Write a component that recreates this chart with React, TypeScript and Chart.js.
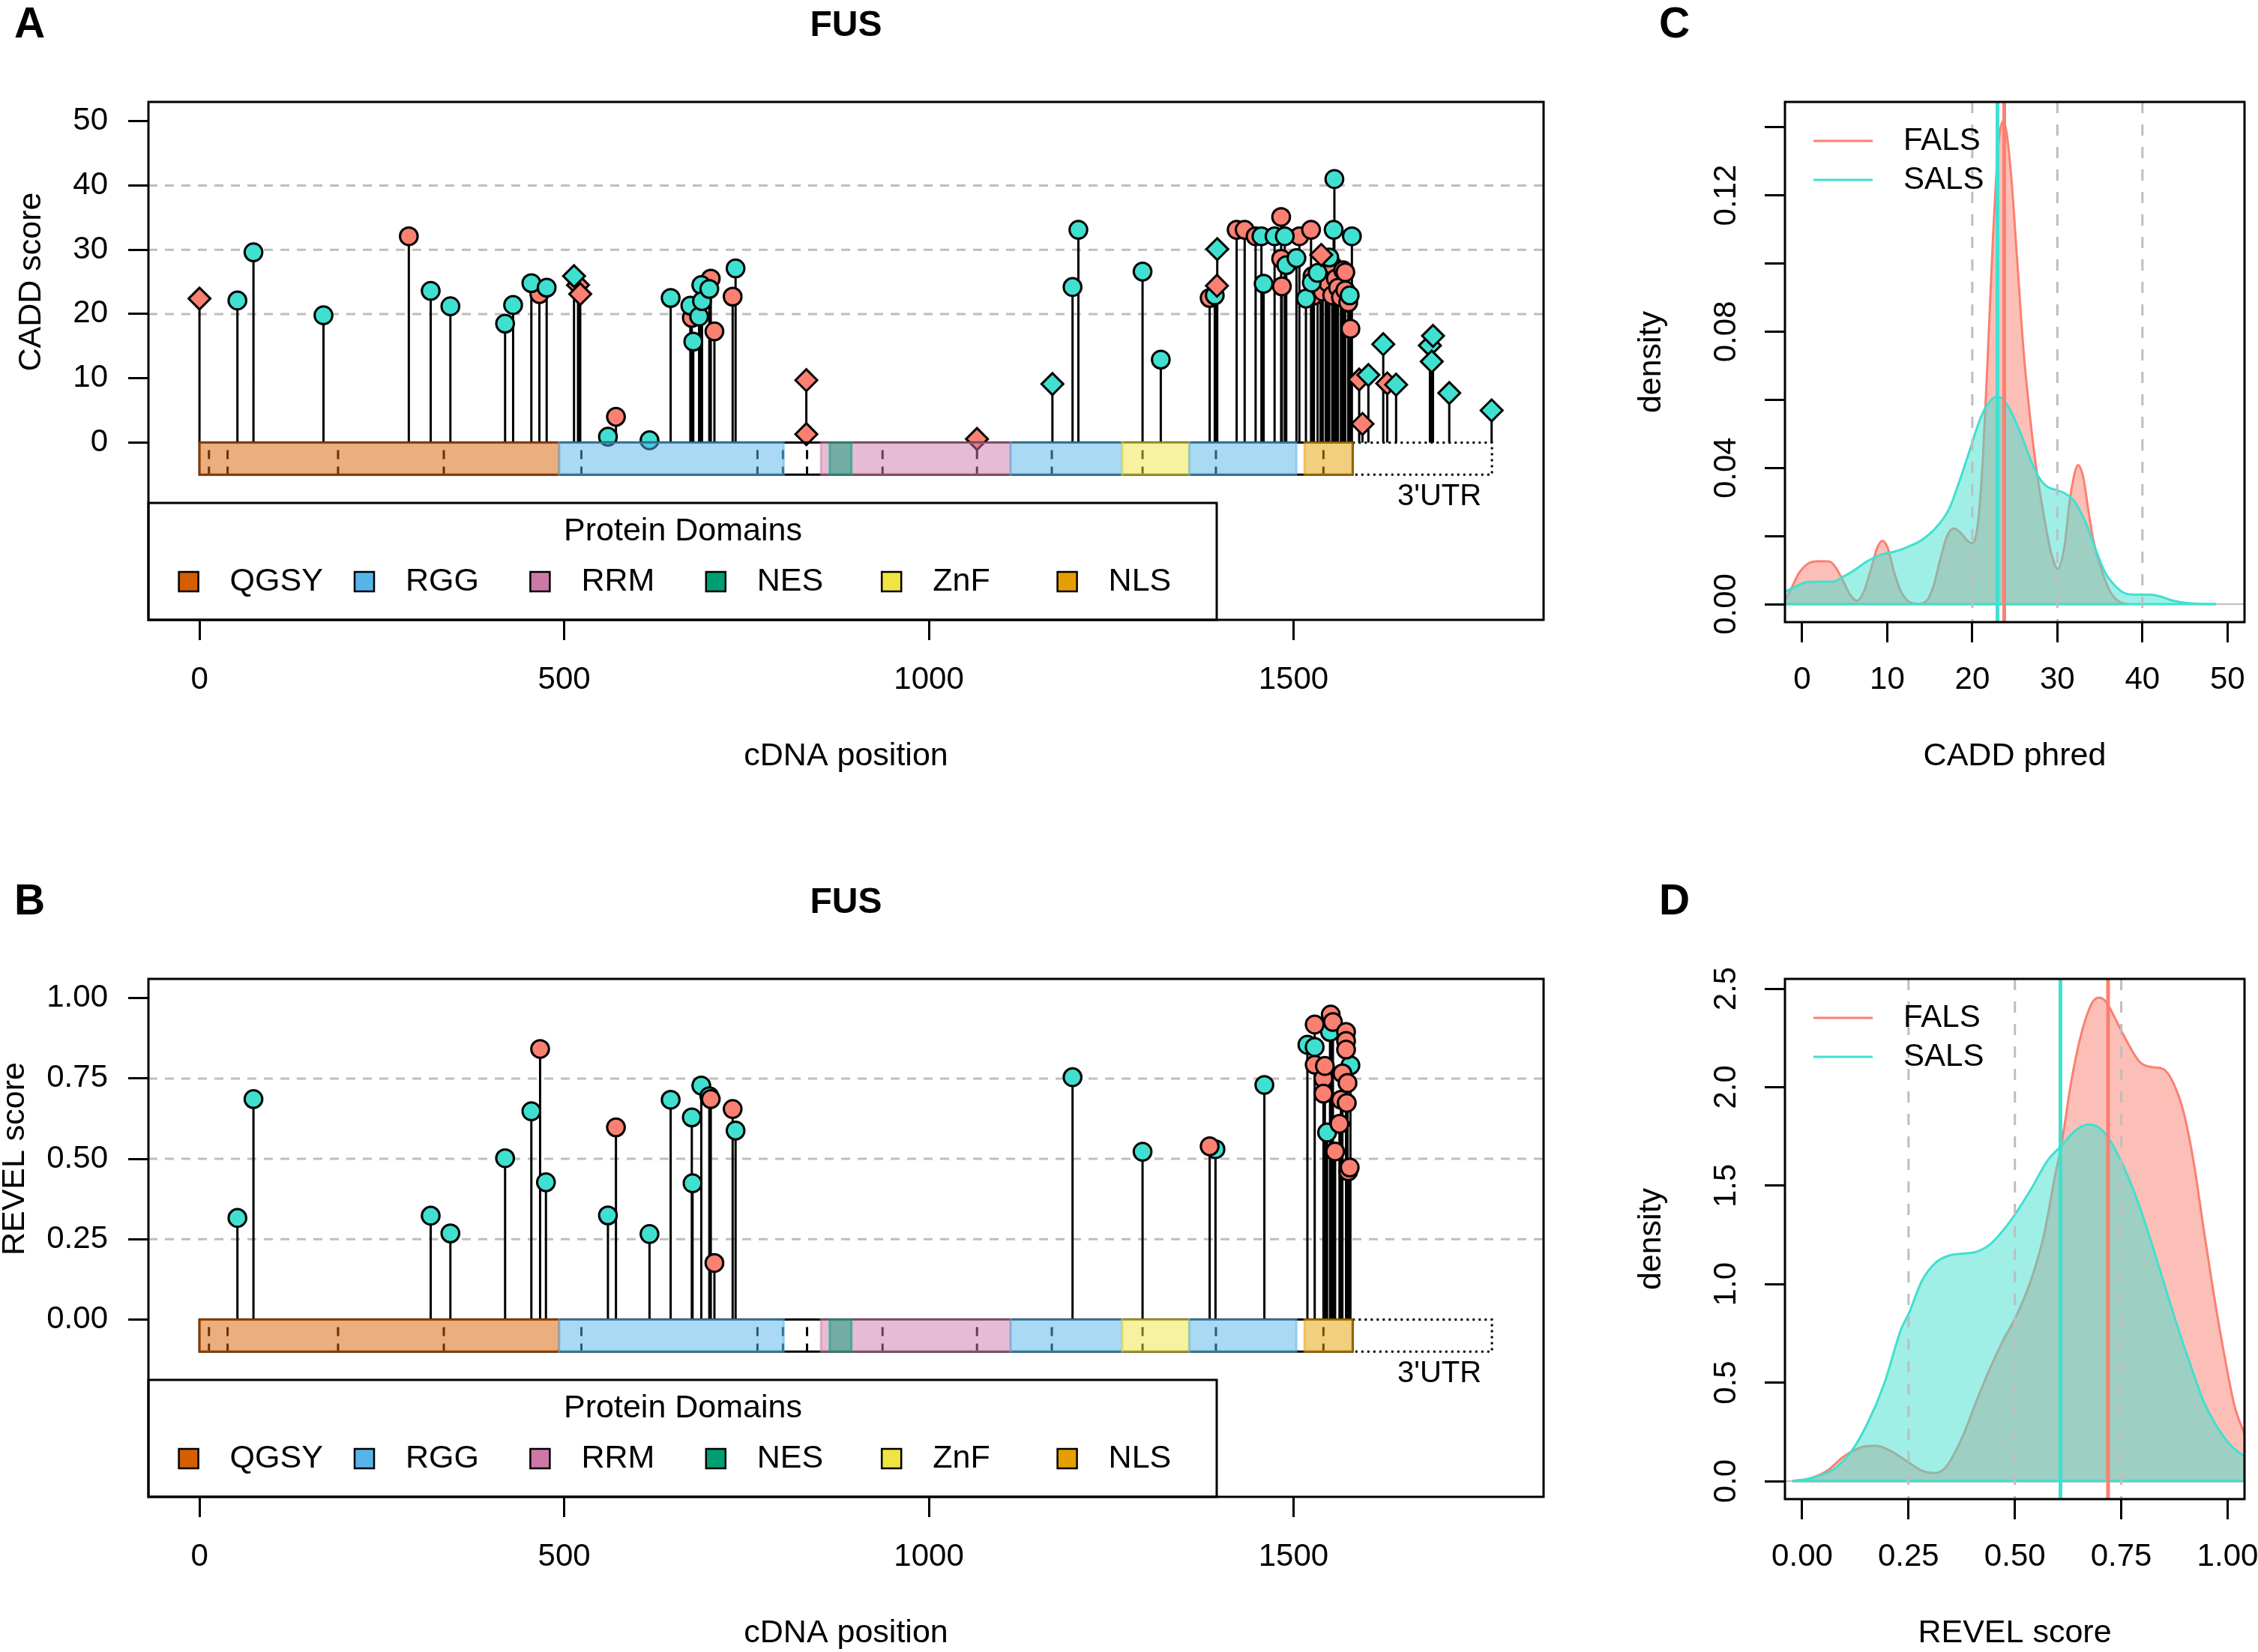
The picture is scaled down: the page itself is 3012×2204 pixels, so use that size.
import React, { useEffect, useRef } from 'react';
import { Chart, registerables } from 'chart.js';

Chart.register(...registerables);

const FONT = '"Liberation Sans", Arial, Helvetica, sans-serif';
Chart.defaults.font.family = FONT;
Chart.defaults.color = '#000';

const SALMON = '#FA8072';
const TURQ = '#40E0D0';
const GRAY = '#BEBEBE';
const groupNames = ['FALS', 'SALS'];

// ---------- Panel A : CADD score along FUS cDNA ----------
const caddFalsMisPos = [287, 466, 571, 675, 701, 706, 731, 1385, 1422, 1433, 1448, 1483, 1483, 1484, 1508, 1524, 1526, 1528, 1537, 1540, 1544, 1547, 1553, 1553, 1558, 1561, 1565, 1568, 1571, 1571, 1575, 1578];
const caddFalsMisScore = [32.1, 23.1, 4.0, 19.4, 25.5, 17.3, 22.7, 22.5, 33.1, 33.1, 32.1, 35.1, 28.6, 24.3, 32.1, 33.1, 25.9, 22.9, 24.5, 23.5, 26.0, 24.9, 27.6, 22.9, 25.5, 24.1, 22.6, 26.8, 26.5, 23.7, 21.8, 17.7];
const caddSalsMisPos = [52, 74, 170, 317, 344, 419, 430, 455, 476, 560, 617, 646, 673, 677, 685, 688, 689, 699, 735, 1197, 1205, 1293, 1318, 1392, 1456, 1459, 1474, 1488, 1490, 1504, 1517, 1525, 1533, 1549, 1555, 1556, 1577, 1580];
const caddSalsMisScore = [22.1, 29.6, 19.8, 23.6, 21.2, 18.5, 21.4, 24.8, 24.1, 0.9, 0.35, 22.5, 21.3, 15.7, 19.6, 24.5, 22.0, 23.9, 27.1, 24.2, 33.1, 26.6, 12.9, 22.9, 32.1, 24.7, 32.1, 32.1, 27.6, 28.7, 22.4, 24.9, 26.4, 28.8, 33.1, 41.0, 22.9, 32.1];
const caddFalsOtherPos = [0, 519, 522, 832, 832, 1066, 1395, 1538, 1590, 1594.5, 1628.5];
const caddFalsOtherScore = [22.4, 24.5, 23.1, 9.7, 1.3, 0.55, 24.4, 29.2, 9.8, 2.9, 9.2];
const caddSalsOtherPos = [513.5, 1169.4, 1395.4, 1602.6, 1623, 1640.6, 1687, 1689.5, 1691.2, 1713.5, 1771.6];
const caddSalsOtherScore = [25.9, 9.1, 30.1, 10.5, 15.3, 9.0, 15.1, 12.6, 16.6, 7.7, 5.0];

// ---------- Panel B : REVEL score along FUS cDNA ----------
const revelFalsPos = [467, 571, 701, 706, 731, 1385, 1529, 1529, 1541, 1541, 1543, 1551, 1554, 1557, 1563, 1565, 1567, 1572, 1572, 1572, 1573, 1574, 1575, 1577];
const revelFalsScore = [0.842, 0.598, 0.686, 0.176, 0.655, 0.539, 0.918, 0.793, 0.75, 0.703, 0.789, 0.949, 0.926, 0.523, 0.609, 0.684, 0.766, 0.895, 0.867, 0.84, 0.674, 0.736, 0.461, 0.473];
const revelSalsPos = [52, 74, 317, 344, 419, 455, 475, 560, 617, 646, 675, 676, 688, 699, 735, 1197, 1293, 1393, 1460, 1519, 1529, 1546, 1550, 1578];
const revelSalsScore = [0.316, 0.686, 0.323, 0.268, 0.502, 0.648, 0.427, 0.324, 0.266, 0.684, 0.629, 0.424, 0.728, 0.695, 0.588, 0.754, 0.522, 0.53, 0.73, 0.855, 0.848, 0.582, 0.895, 0.791];

// ---------- Gene model ----------
const domainNames = ['QGSY', 'RGG', 'RRM', 'NES', 'ZnF', 'NLS'];
const domainColors = ['#D55E00', '#56B4E9', '#CC79A7', '#009E73', '#F0E442', '#E69F00'];
const segNames = ['QGSY', 'RGG', 'RRM', 'NES', 'RGG', 'ZnF', 'RGG', 'NLS'];
const segStart = [0, 493, 852, 864, 1112, 1265, 1357, 1515];
const segEnd = [493, 801, 1112, 894, 1265, 1357, 1504, 1581];
const exonBoundaries = [13, 38.5, 190, 335, 523.6, 765, 800, 833, 936.5, 1066, 1168.6, 1293, 1393.6, 1541];
const cdsStart = 0;
const cdsEnd = 1581;
const utrEnd = 1772;
const cdnaTicks = [0, 500, 1000, 1500];
const cdnaTickLabels = ['0', '500', '1000', '1500'];
const caddTicks = [0, 10, 20, 30, 40, 50];
const caddTickLabels = ['0', '10', '20', '30', '40', '50'];
const caddGrid = [20, 30, 40];
const revelTicks = [0, 0.25, 0.5, 0.75, 1];
const revelTickLabels = ['0.00', '0.25', '0.50', '0.75', '1.00'];
const revelGrid = [0.25, 0.5, 0.75];

// ---------- Panel C : CADD phred density ----------
const caddFalsX = [-2.03, -1.35, -0.35, 0.85, 2.05, 3.25, 4.04, 4.84, 5.64, 6.44, 7.24, 8.04, 8.84, 9.44, 10.04, 10.84, 11.64, 12.64, 13.64, 14.64, 15.44, 16.24, 17.04, 17.84, 18.64, 19.44, 19.96, 20.64, 21.24, 21.84, 22.44, 23.04, 23.56, 24.04, 24.64, 25.24, 26.04, 26.84, 27.44, 28.44, 29.24, 30.04, 30.84, 31.44, 32.04, 32.43, 33.03, 33.63, 34.23, 35.23, 36.23, 37.23, 38.23];
const caddFalsY = [0.001, 0.0042, 0.0092, 0.0121, 0.0126, 0.0125, 0.0104, 0.0067, 0.0028, 0.001, 0.0036, 0.0098, 0.0166, 0.0186, 0.0166, 0.0092, 0.0036, 0.0006, 0.0001, 0.001, 0.0053, 0.0132, 0.02, 0.0222, 0.0209, 0.0186, 0.0179, 0.0233, 0.0425, 0.074, 0.1079, 0.1338, 0.1417, 0.1383, 0.1236, 0.1022, 0.074, 0.0538, 0.0414, 0.0256, 0.0154, 0.0104, 0.0171, 0.0301, 0.0385, 0.0408, 0.0374, 0.0278, 0.0188, 0.0098, 0.0036, 0.0008, 0];
const caddSalsX = [-2.03, -1.15, 0.45, 2.05, 3.65, 4.84, 6.04, 7.64, 9.24, 10.84, 12.44, 14.04, 15.64, 17.24, 18.44, 19.64, 20.84, 21.84, 22.84, 23.44, 24.44, 25.64, 26.84, 27.64, 28.64, 29.83, 30.83, 32.03, 33.23, 34.43, 35.63, 36.83, 37.83, 38.83, 40.83, 42.03, 43.63, 45.63, 48.63];
const caddSalsY = [0.0036, 0.0047, 0.0064, 0.0066, 0.0066, 0.0081, 0.0098, 0.0126, 0.0145, 0.0154, 0.0168, 0.0188, 0.0222, 0.0278, 0.0357, 0.0447, 0.0538, 0.0588, 0.0608, 0.0605, 0.0571, 0.0504, 0.0425, 0.038, 0.0348, 0.0335, 0.0326, 0.0301, 0.0245, 0.0166, 0.0092, 0.0053, 0.0033, 0.0028, 0.0028, 0.0023, 0.001, 0.0002, 0];
const caddMeans = [23.75, 22.96];
const caddRefLines = [20, 30, 40];
const phredTicks = [0, 10, 20, 30, 40, 50];
const phredTickLabels = ['0', '10', '20', '30', '40', '50'];
const caddDensTicks = [0, 0.02, 0.04, 0.06, 0.08, 0.1, 0.12, 0.14];
const caddDensLabelTicks = [0, 0.04, 0.08, 0.12];
const caddDensLabels = ['0.00', '0.04', '0.08', '0.12'];

// ---------- Panel D : REVEL score density ----------
const revelFalsX = [-0.023, 0.017, 0.057, 0.097, 0.137, 0.173, 0.209, 0.249, 0.281, 0.309, 0.337, 0.377, 0.409, 0.441, 0.473, 0.499, 0.537, 0.569, 0.593, 0.609, 0.633, 0.657, 0.681, 0.697, 0.713, 0.737, 0.761, 0.793, 0.825, 0.849, 0.873, 0.897, 0.921, 0.944, 0.968, 0.992, 1.016, 1.04];
const revelFalsY = [0, 0.013, 0.05, 0.124, 0.171, 0.18, 0.152, 0.097, 0.054, 0.041, 0.069, 0.226, 0.403, 0.57, 0.718, 0.82, 1.015, 1.257, 1.535, 1.702, 2.036, 2.278, 2.426, 2.454, 2.436, 2.343, 2.241, 2.129, 2.101, 2.092, 2.018, 1.869, 1.609, 1.275, 0.941, 0.644, 0.384, 0.236];
const revelSalsX = [-0.023, 0.025, 0.073, 0.113, 0.153, 0.193, 0.233, 0.25, 0.281, 0.313, 0.345, 0.377, 0.409, 0.441, 0.473, 0.499, 0.537, 0.577, 0.609, 0.641, 0.673, 0.697, 0.721, 0.753, 0.785, 0.817, 0.849, 0.881, 0.913, 0.944, 0.976, 1.008, 1.04];
const revelSalsY = [0, 0.017, 0.059, 0.143, 0.291, 0.496, 0.774, 0.848, 1.015, 1.108, 1.145, 1.155, 1.164, 1.201, 1.275, 1.35, 1.479, 1.628, 1.702, 1.777, 1.81, 1.795, 1.739, 1.609, 1.442, 1.238, 1.015, 0.793, 0.588, 0.403, 0.273, 0.18, 0.124];
const revelMeans = [0.719, 0.607];
const revelRefLines = [0.25, 0.5, 0.75];
const revelXTicks = [0, 0.25, 0.5, 0.75, 1];
const revelXTickLabels = ['0.00', '0.25', '0.50', '0.75', '1.00'];
const revelDensTicks = [0, 0.5, 1, 1.5, 2, 2.5];
const revelDensLabels = ['0.0', '0.5', '1.0', '1.5', '2.0', '2.5'];

// ---------- helpers ----------
function rgba(hex: string, a: number) {
  const n = parseInt(hex.slice(1), 16);
  return `rgba(${(n >> 16) & 255},${(n >> 8) & 255},${n & 255},${a})`;
}
function fixAxis(size: number, horizontal: boolean) {
  return (s: any) => {
    if (horizontal) s.height = size;
    else s.width = size;
    s.paddingLeft = 0; s.paddingRight = 0; s.paddingTop = 0; s.paddingBottom = 0;
  };
}
function setTicks(values: number[]) {
  return (s: any) => { s.ticks = values.map((v) => ({ value: v })); };
}
function rotText(ctx: CanvasRenderingContext2D, text: string, x: number, y: number, font: string) {
  ctx.save();
  ctx.translate(x, y);
  ctx.rotate(-Math.PI / 2);
  ctx.font = font;
  ctx.fillStyle = '#000';
  ctx.textAlign = 'center';
  ctx.textBaseline = 'middle';
  ctx.fillText(text, 0, 0);
  ctx.restore();
}
function letterAndTitle(ctx: CanvasRenderingContext2D, letter: string, lx: number, title: string | null, cx: number) {
  ctx.save();
  ctx.fillStyle = '#000';
  ctx.textBaseline = 'alphabetic';
  ctx.textAlign = 'left';
  ctx.font = `bold 57px ${FONT}`;
  ctx.fillText(letter, lx, 50);
  if (title) {
    ctx.textAlign = 'center';
    ctx.font = `bold 48px ${FONT}`;
    ctx.fillText(title, cx, 48);
  }
  ctx.restore();
}
const tickFont = { family: FONT, size: 42 };

type Group = { pos: number[]; score: number[]; fill: string; shape: 'circle' | 'rectRot' };
interface LolliSpec {
  letter: string; title: string; yTitle: string; yTitleX: number;
  yMin: number; yMax: number; yTicks: number[]; yTickLabels: string[];
  gridVals: number[]; barDepth: number; groups: Group[]; canvasH: number;
}

function lolliConfig(spec: LolliSpec): any {
  const W = 2150;
  const CA = { left: 198, top: 136, right: 2059, bottom: 827 };
  const stems: any[] = [];
  spec.groups.forEach((g) => g.pos.forEach((p, i) => {
    stems.push({ x: p, y: 0 }, { x: p, y: g.score[i] }, { x: p, y: null });
  }));
  const datasets: any[] = [{
    type: 'line', data: stems, borderColor: '#000', borderWidth: 3, pointRadius: 0,
    spanGaps: false, fill: false, tension: 0, order: 100,
  }];
  spec.groups.forEach((g, k) => datasets.push({
    type: 'scatter',
    data: g.pos.map((p, i) => ({ x: p, y: g.score[i] })),
    pointStyle: g.shape,
    pointRadius: g.shape === 'circle' ? 11.8 : 14.5,
    pointBackgroundColor: g.fill, pointBorderColor: '#000', pointBorderWidth: 3,
    order: 50 - k,
  }));

  const decor = {
    id: 'lolliDecor',
    beforeDatasetsDraw(chart: any) {
      const { ctx, chartArea: ca } = chart; const y = chart.scales.y;
      ctx.save();
      ctx.strokeStyle = GRAY; ctx.lineWidth = 3; ctx.setLineDash([12, 10]);
      spec.gridVals.forEach((v) => {
        const py = y.getPixelForValue(v);
        ctx.beginPath(); ctx.moveTo(ca.left, py); ctx.lineTo(ca.right, py); ctx.stroke();
      });
      ctx.restore();
    },
    afterDatasetsDraw(chart: any) {
      const { ctx, chartArea: ca } = chart; const x = chart.scales.x; const y = chart.scales.y;
      const top = y.getPixelForValue(0); const bot = y.getPixelForValue(-spec.barDepth);
      ctx.save();
      // exon boundaries
      ctx.strokeStyle = '#000'; ctx.lineWidth = 3; ctx.setLineDash([12, 10]); ctx.lineDashOffset = 12;
      exonBoundaries.forEach((e) => {
        const px = x.getPixelForValue(e);
        ctx.beginPath(); ctx.moveTo(px, top); ctx.lineTo(px, bot); ctx.stroke();
      });
      ctx.setLineDash([]); ctx.lineDashOffset = 0;
      const x0 = x.getPixelForValue(cdsStart); const x1 = x.getPixelForValue(cdsEnd); const x2 = x.getPixelForValue(utrEnd);
      ctx.strokeRect(x0, top, x1 - x0, bot - top);
      // 3'UTR dotted
      ctx.setLineDash([3, 5]);
      ctx.beginPath(); ctx.moveTo(x1, top); ctx.lineTo(x2, top); ctx.lineTo(x2, bot); ctx.lineTo(x1, bot); ctx.stroke();
      ctx.setLineDash([]);
      // domains
      segNames.forEach((n, i) => {
        const c = rgba(domainColors[domainNames.indexOf(n)], 0.5);
        const sx = x.getPixelForValue(segStart[i]); const ex = x.getPixelForValue(segEnd[i]);
        ctx.fillStyle = c; ctx.fillRect(sx, top, ex - sx, bot - top);
        ctx.strokeStyle = c; ctx.lineWidth = 3; ctx.strokeRect(sx, top, ex - sx, bot - top);
      });
      ctx.fillStyle = '#000'; ctx.font = `40px ${FONT}`; ctx.textAlign = 'center'; ctx.textBaseline = 'middle';
      ctx.fillText("3'UTR", x.getPixelForValue(1700), bot + 30);
      // legend
      const lx = ca.left; const ly = ca.bottom - 156; const lw = 1425;
      ctx.fillStyle = '#fff'; ctx.fillRect(lx, ly, lw, ca.bottom - ly);
      ctx.strokeStyle = '#000'; ctx.lineWidth = 3; ctx.strokeRect(lx, ly, lw, ca.bottom - ly);
      ctx.fillStyle = '#000'; ctx.font = `43px ${FONT}`; ctx.textAlign = 'center'; ctx.textBaseline = 'middle';
      ctx.fillText('Protein Domains', lx + 713, ly + 38);
      domainNames.forEach((n, i) => {
        const cx = lx + 53.6 + i * 234.4; const cy = ly + 105;
        ctx.fillStyle = domainColors[i]; ctx.fillRect(cx - 13, cy - 13, 26, 26);
        ctx.strokeStyle = '#000'; ctx.lineWidth = 2.5; ctx.strokeRect(cx - 13, cy - 13, 26, 26);
        ctx.fillStyle = '#000'; ctx.textAlign = 'left';
        ctx.fillText(n, cx + 55, cy);
      });
      ctx.restore();
    },
    afterDraw(chart: any) {
      const { ctx, chartArea: ca } = chart; const y = chart.scales.y;
      ctx.save();
      ctx.strokeStyle = '#000'; ctx.lineWidth = 3;
      ctx.strokeRect(ca.left, ca.top, ca.right - ca.left, ca.bottom - ca.top);
      ctx.restore();
      const cx = (ca.left + ca.right) / 2;
      letterAndTitle(ctx, spec.letter, 19, spec.title, cx);
      const midY = (y.getPixelForValue(spec.yTicks[0]) + y.getPixelForValue(spec.yTicks[spec.yTicks.length - 1])) / 2;
      rotText(ctx, spec.yTitle, spec.yTitleX, midY, `43px ${FONT}`);
      ctx.save();
      ctx.fillStyle = '#000'; ctx.font = `43px ${FONT}`; ctx.textAlign = 'center'; ctx.textBaseline = 'middle';
      ctx.fillText('cDNA position', cx, 1009);
      ctx.restore();
    },
  };

  return {
    type: 'scatter',
    data: { datasets },
    plugins: [decor],
    options: {
      animation: false, responsive: false, devicePixelRatio: 1, events: [],
      layout: { padding: { left: 0, top: CA.top, right: W - CA.right, bottom: 0 }, autoPadding: false },
      plugins: { legend: { display: false }, tooltip: { enabled: false }, title: { display: false } },
      scales: {
        x: {
          type: 'linear', min: -70, max: 1842.8,
          afterBuildTicks: setTicks(cdnaTicks),
          afterFit: fixAxis(spec.canvasH - CA.bottom, true),
          grid: { display: true, drawOnChartArea: false, drawTicks: true, tickLength: 27, tickWidth: 3, tickColor: '#000' },
          border: { display: false },
          ticks: { autoSkip: false, maxRotation: 0, minRotation: 0, padding: 28, color: '#000', font: tickFont,
            callback: (_v: any, i: number) => cdnaTickLabels[i] },
        },
        y: {
          type: 'linear', min: spec.yMin, max: spec.yMax,
          afterBuildTicks: setTicks(spec.yTicks),
          afterFit: fixAxis(CA.left, false),
          grid: { display: true, drawOnChartArea: false, drawTicks: true, tickLength: 27, tickWidth: 3, tickColor: '#000' },
          border: { display: false },
          ticks: { autoSkip: false, padding: 27, color: '#000', font: tickFont,
            callback: (_v: any, i: number) => spec.yTickLabels[i] },
        },
      },
    },
  };
}

interface DensSpec {
  letter: string; xTitle: string;
  xMin: number; xMax: number; xTicks: number[]; xTickLabels: string[];
  yMin: number; yMax: number; yTicks: number[]; yLabelTicks: number[]; yLabels: string[];
  refLines: number[]; falsX: number[]; falsY: number[]; salsX: number[]; salsY: number[];
  means: number[]; canvasH: number;
}

function densConfig(spec: DensSpec): any {
  const W = 862;
  const CA = { left: 231, top: 136, right: 844, bottom: 830 };
  const curve = (xs: number[], ys: number[], col: string, order: number) => ({
    type: 'line', data: xs.map((v, i) => ({ x: v, y: ys[i] })),
    borderColor: col, backgroundColor: rgba(col, 0.5), borderWidth: 3, pointRadius: 0,
    fill: 'origin', cubicInterpolationMode: 'monotone', order,
  });
  const base = (xs: number[], col: string, order: number) => ({
    type: 'line', data: [{ x: xs[0], y: 0 }, { x: xs[xs.length - 1], y: 0 }],
    borderColor: col, borderWidth: 3, pointRadius: 0, fill: false, order,
  });
  const datasets = [
    curve(spec.falsX, spec.falsY, SALMON, 4),
    base(spec.falsX, SALMON, 3),
    curve(spec.salsX, spec.salsY, TURQ, 2),
    base(spec.salsX, TURQ, 1),
  ];
  const decor = {
    id: 'densDecor',
    beforeDatasetsDraw(chart: any) {
      const { ctx, chartArea: ca } = chart; const y = chart.scales.y;
      ctx.save();
      ctx.strokeStyle = GRAY; ctx.lineWidth = 2;
      const py = y.getPixelForValue(0);
      ctx.beginPath(); ctx.moveTo(ca.left, py); ctx.lineTo(ca.right, py); ctx.stroke();
      ctx.restore();
    },
    afterDatasetsDraw(chart: any) {
      const { ctx, chartArea: ca } = chart; const x = chart.scales.x;
      ctx.save();
      ctx.strokeStyle = GRAY; ctx.lineWidth = 3; ctx.setLineDash([15, 15]);
      spec.refLines.forEach((v) => {
        const px = x.getPixelForValue(v);
        ctx.beginPath(); ctx.moveTo(px, ca.top); ctx.lineTo(px, ca.bottom); ctx.stroke();
      });
      ctx.setLineDash([]);
      [SALMON, TURQ].forEach((c, i) => {
        const px = x.getPixelForValue(spec.means[i]);
        ctx.strokeStyle = c; ctx.lineWidth = 5;
        ctx.beginPath(); ctx.moveTo(px, ca.top); ctx.lineTo(px, ca.bottom); ctx.stroke();
      });
      // legend
      ctx.font = `42px ${FONT}`; ctx.textAlign = 'left'; ctx.textBaseline = 'middle';
      [SALMON, TURQ].forEach((c, i) => {
        const yy = 188 + i * 52;
        ctx.strokeStyle = c; ctx.lineWidth = 3;
        ctx.beginPath(); ctx.moveTo(269, yy); ctx.lineTo(348, yy); ctx.stroke();
        ctx.fillStyle = '#000'; ctx.fillText(groupNames[i], 389, yy);
      });
      ctx.restore();
    },
    afterDraw(chart: any) {
      const { ctx, chartArea: ca } = chart; const y = chart.scales.y;
      ctx.save();
      ctx.strokeStyle = '#000'; ctx.lineWidth = 3;
      ctx.strokeRect(ca.left, ca.top, ca.right - ca.left, ca.bottom - ca.top);
      ctx.restore();
      spec.yLabelTicks.forEach((v, i) => rotText(ctx, spec.yLabels[i], 153, y.getPixelForValue(v), `42px ${FONT}`));
      rotText(ctx, 'density', 53, (ca.top + ca.bottom) / 2, `43px ${FONT}`);
      letterAndTitle(ctx, spec.letter, 63, null, 0);
      ctx.save();
      ctx.fillStyle = '#000'; ctx.font = `43px ${FONT}`; ctx.textAlign = 'center'; ctx.textBaseline = 'middle';
      ctx.fillText(spec.xTitle, (ca.left + ca.right) / 2, 1009);
      ctx.restore();
    },
  };
  return {
    type: 'scatter',
    data: { datasets },
    plugins: [decor],
    options: {
      animation: false, responsive: false, devicePixelRatio: 1, events: [],
      layout: { padding: { left: 0, top: CA.top, right: W - CA.right, bottom: 0 }, autoPadding: false },
      plugins: { legend: { display: false }, tooltip: { enabled: false }, title: { display: false } },
      scales: {
        x: {
          type: 'linear', min: spec.xMin, max: spec.xMax,
          afterBuildTicks: setTicks(spec.xTicks),
          afterFit: fixAxis(spec.canvasH - CA.bottom, true),
          grid: { display: true, drawOnChartArea: false, drawTicks: true, tickLength: 27, tickWidth: 3, tickColor: '#000' },
          border: { display: false },
          ticks: { autoSkip: false, maxRotation: 0, minRotation: 0, padding: 25, color: '#000', font: tickFont,
            callback: (_v: any, i: number) => spec.xTickLabels[i] },
        },
        y: {
          type: 'linear', min: spec.yMin, max: spec.yMax,
          afterBuildTicks: setTicks(spec.yTicks),
          afterFit: fixAxis(CA.left, false),
          grid: { display: true, drawOnChartArea: false, drawTicks: true, tickLength: 27, tickWidth: 3, tickColor: '#000' },
          border: { display: false },
          ticks: { display: false },
        },
      },
    },
  };
}

function ChartCanvas(props: { left: number; top: number; width: number; height: number; make: () => any }) {
  const ref = useRef<HTMLCanvasElement | null>(null);
  useEffect(() => {
    const chart = new Chart(ref.current as HTMLCanvasElement, props.make());
    return () => chart.destroy();
  }, []);
  return (
    <canvas ref={ref} width={props.width} height={props.height}
      style={{ position: 'absolute', left: props.left, top: props.top, width: props.width, height: props.height }} />
  );
}

export default function App() {
  const makeA = () => lolliConfig({
    letter: 'A', title: 'FUS', yTitle: 'CADD score', yTitleX: 42,
    yMin: -27.6, yMax: 53.0, yTicks: caddTicks, yTickLabels: caddTickLabels,
    gridVals: caddGrid, barDepth: 5, canvasH: 1170,
    groups: [
      { pos: caddFalsMisPos, score: caddFalsMisScore, fill: SALMON, shape: 'circle' },
      { pos: caddSalsMisPos, score: caddSalsMisScore, fill: TURQ, shape: 'circle' },
      { pos: caddFalsOtherPos, score: caddFalsOtherScore, fill: SALMON, shape: 'rectRot' },
      { pos: caddSalsOtherPos, score: caddSalsOtherScore, fill: TURQ, shape: 'rectRot' },
    ],
  });
  const makeB = () => lolliConfig({
    letter: 'B', title: 'FUS', yTitle: 'REVEL score', yTitleX: 20,
    yMin: -0.552, yMax: 1.06, yTicks: revelTicks, yTickLabels: revelTickLabels,
    gridVals: revelGrid, barDepth: 0.1, canvasH: 1034,
    groups: [
      { pos: revelSalsPos, score: revelSalsScore, fill: TURQ, shape: 'circle' },
      { pos: revelFalsPos, score: revelFalsScore, fill: SALMON, shape: 'circle' },
    ],
  });
  const makeC = () => densConfig({
    letter: 'C', xTitle: 'CADD phred',
    xMin: -2.02, xMax: 52.0, xTicks: phredTicks, xTickLabels: phredTickLabels,
    yMin: -0.00528, yMax: 0.1474, yTicks: caddDensTicks, yLabelTicks: caddDensLabelTicks, yLabels: caddDensLabels,
    refLines: caddRefLines, falsX: caddFalsX, falsY: caddFalsY, salsX: caddSalsX, salsY: caddSalsY,
    means: caddMeans, canvasH: 1170,
  });
  const makeD = () => densConfig({
    letter: 'D', xTitle: 'REVEL score',
    xMin: -0.0405, xMax: 1.0397, xTicks: revelXTicks, xTickLabels: revelXTickLabels,
    yMin: -0.0913, yMax: 2.5495, yTicks: revelDensTicks, yLabelTicks: revelDensTicks, yLabels: revelDensLabels,
    refLines: revelRefLines, falsX: revelFalsX, falsY: revelFalsY, salsX: revelSalsX, salsY: revelSalsY,
    means: revelMeans, canvasH: 1034,
  });
  return (
    <div style={{ position: 'absolute', left: 0, top: 0, width: 3012, height: 2204, background: '#fff', overflow: 'hidden' }}>
      <ChartCanvas left={0} top={0} width={2150} height={1170} make={makeA} />
      <ChartCanvas left={0} top={1170} width={2150} height={1034} make={makeB} />
      <ChartCanvas left={2150} top={0} width={862} height={1170} make={makeC} />
      <ChartCanvas left={2150} top={1170} width={862} height={1034} make={makeD} />
    </div>
  );
}
